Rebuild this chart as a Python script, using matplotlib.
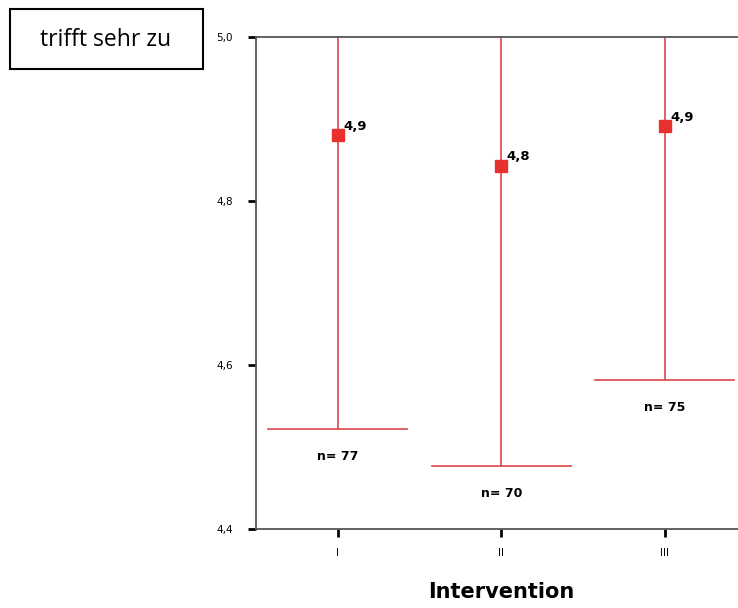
import matplotlib.pyplot as plt
import matplotlib.transforms as mtransforms
from matplotlib.patches import Rectangle

# --- data ---
groups = ["I", "II", "III"]
means = [4.88, 4.843, 4.891]
lower = [4.522, 4.477, 4.582]
upper = [5.24, 5.21, 5.20]   # above the visible range, clipped at 5,0
mean_labels = ["4,9", "4,8", "4,9"]
n_labels = ["n= 77", "n= 70", "n= 75"]
yticks = [4.4, 4.6, 4.8, 5.0]
ytick_labels = ["4,4", "4,6", "4,8", "5,0"]

W, H = 738, 608
fig = plt.figure(figsize=(W / 100, H / 100), dpi=100)
ax = fig.add_axes([256 / W, 1 - 529 / H, 1 - 256 / W, (529 - 37) / H])

xs = [1, 2, 3]
red_line = "#d9474a"
red_mark = "#e8302c"
cap = 0.425

for x, m, lo, hi, ml, nl in zip(xs, means, lower, upper, mean_labels, n_labels):
    ax.plot([x, x], [lo, hi], color=red_line, lw=1.2, zorder=2)
    ax.plot([x - cap, x + cap], [lo, lo], color=red_line, lw=1.2, zorder=2)
    ax.plot([x - cap, x + cap], [hi, hi], color=red_line, lw=1.2, zorder=2)
    ax.plot([x], [m], marker="s", markersize=8, color=red_mark, zorder=3)
    ax.annotate(ml, (x, m), xytext=(4, 4), textcoords="offset points",
                fontsize=9.5, fontweight="bold")
    ax.annotate(nl, (x, lo), xytext=(0, -20), textcoords="offset points",
                ha="center", va="center", fontsize=9, fontweight="bold")

ax.set_ylim(4.4, 5.0)
ax.set_xlim(0.5, 0.5 + (W - 256) / 163.5)
ax.set_yticks(yticks)
ax.set_yticklabels(ytick_labels, fontsize=7.5)
ax.set_xticks(xs)
ax.set_xticklabels(groups, fontsize=7.5)
ax.tick_params(axis="both", direction="out", length=5.5, width=2, color="black")
ax.tick_params(axis="y", pad=11)
ax.tick_params(axis="x", pad=8.5)

for side in ["left", "top", "bottom"]:
    ax.spines[side].set_color("#555555")
    ax.spines[side].set_linewidth(1.3)
ax.spines["right"].set_visible(False)

# x axis title centred under category II
trans = mtransforms.blended_transform_factory(ax.transData, fig.transFigure)
fig.text(2, 1 - 592 / H, "Intervention", transform=trans, ha="center", va="center",
         fontsize=15, fontweight="bold")

# box label top-left
fig.patches.append(Rectangle((10 / W, 1 - 69 / H), 193 / W, 60 / H,
                             transform=fig.transFigure, facecolor="white",
                             edgecolor="black", lw=1.5))
fig.text(106 / W, 1 - 40 / H, "trifft sehr zu", ha="center", va="center",
         fontsize=16.5, family="Open Sans")

fig.savefig("out.png", dpi=100)
